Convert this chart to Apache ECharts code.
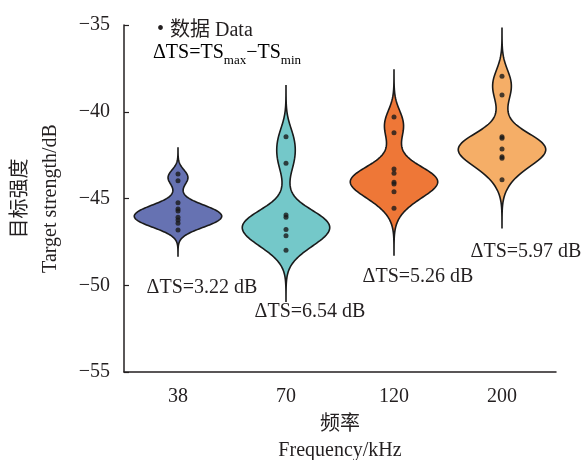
<!DOCTYPE html>
<html><head><meta charset="utf-8">
<script src="https://cdn.jsdelivr.net/npm/echarts@6/dist/echarts.min.js"></script>
<style>html,body{margin:0;padding:0;background:#fff}#c{width:584px;height:460px}</style>
</head><body><div id="c"></div>
<script>
const categories = ['38', '70', '120', '200'];
const ts38  = [-43.59, -43.97, -45.24, -45.60, -45.72, -46.08, -46.24, -46.43, -46.81];
const ts70  = [-41.44, -42.97, -45.95, -46.08, -46.78, -47.14, -47.98];
const ts120 = [-40.30, -41.21, -43.30, -43.55, -44.07, -44.16, -44.61, -45.56];
const ts200 = [-37.95, -39.03, -41.44, -41.53, -42.15, -42.59, -42.68, -43.92];
const deltaTS = ['3.22', '6.54', '5.26', '5.97'];
const bandwidth = [0.5, 0.98, 0.9, 0.92];
const groups = [ts38, ts70, ts120, ts200];
const colors = ['#6672b2', '#74c8c9', '#ee7737', '#f5ae67'];
const FONT = "'Liberation Serif', 'Noto Sans CJK SC', serif";
const TXT = '#231f20';

function kde(vals, h, v) {
  let s = 0;
  for (const x of vals) { const z = (v - x) / h; s += Math.exp(-0.5 * z * z); }
  return s;
}

const points = [];
groups.forEach((g, i) => g.forEach(v => points.push([i, v])));

const chart = echarts.init(document.getElementById('c'), null, {renderer: 'canvas'});
const option = {
  animation: false,
  backgroundColor: '#fff',
  grid: {left: 124, right: 28, top: 25, bottom: 88, outerBoundsMode: 'none', containLabel: false},
  xAxis: {
    type: 'category', data: categories, boundaryGap: true,
    axisLine: {lineStyle: {color: TXT, width: 1.5}},
    axisTick: {alignWithLabel: true, inside: true, length: 5, lineStyle: {color: TXT, width: 1.2}},
    axisLabel: {fontFamily: FONT, fontSize: 20, color: TXT, margin: 15},
    name: '频率\nFrequency/kHz', nameLocation: 'middle', nameGap: 37,
    nameTextStyle: {fontFamily: FONT, fontSize: 20, color: TXT, lineHeight: 26, verticalAlign: 'top'}
  },
  yAxis: {
    type: 'value', min: -55, max: -35, interval: 5,
    splitLine: {show: false},
    axisLine: {show: true, lineStyle: {color: TXT, width: 1.5}},
    axisTick: {show: true, inside: true, length: 5, lineStyle: {color: TXT, width: 1.2}},
    axisLabel: {fontFamily: FONT, fontSize: 20, color: TXT, margin: 14,
      formatter: v => String(v).replace('-', '\u2212')},
    name: '目标强度\nTarget strength/dB', nameLocation: 'middle', nameGap: 58, nameRotate: 90,
    nameTextStyle: {fontFamily: FONT, fontSize: 20, color: TXT, lineHeight: 30}
  },
  series: [
    {
      type: 'custom',
      data: categories.map((c, i) => [i, Math.min(...groups[i]), Math.max(...groups[i])]),
      encode: {x: 0, y: [1, 2]},
      renderItem(params, api) {
        const i = api.value(0);
        const vals = groups[i];
        const h = bandwidth[i];
        const cut = 3.0;
        const lo = Math.min(...vals) - cut * h, hi = Math.max(...vals) + cut * h;
        const N = 160;
        const dens = [];
        let dmax = 0;
        for (let k = 0; k <= N; k++) {
          const v = lo + (hi - lo) * k / N;
          const d = kde(vals, h, v);
          dens.push([v, d]);
          if (d > dmax) dmax = d;
        }
        const band = api.size([1, 0])[0];
        const halfMax = band * 0.405;
        const right = [], left = [];
        dens.forEach(([v, d]) => {
          const p = api.coord([i, v]);
          const w = Math.pow(d / dmax, 1.6) * halfMax;
          right.push([p[0] + w, p[1]]);
          left.unshift([p[0] - w, p[1]]);
        });
        return {
          type: 'polygon',
          shape: {points: right.concat(left)},
          style: {fill: colors[i], stroke: '#1a1a1a', lineWidth: 1.6}
        };
      },
      z: 2
    },
    {
      type: 'scatter', data: points, symbol: 'circle', symbolSize: 5,
      itemStyle: {color: '#1a1a1a'}, z: 3
    }
  ],
  graphic: [
    {type: 'text', left: 157, top: 20, style: {text: '•', font: `20px ${FONT}`, fill: TXT}},
    {type: 'text', left: 170, top: 21, style: {text: '数据 Data', font: `20px ${FONT}`, fill: TXT}},
    {type: 'text', left: 153, top: 43, style: {
      text: '{a|ΔTS=TS}{s|max}{a|\u2212TS}{s|min}',
      rich: {
        a: {fontFamily: FONT, fontSize: 20, color: TXT, lineHeight: 24, verticalAlign: 'bottom'},
        s: {fontFamily: FONT, fontSize: 13, color: TXT, lineHeight: 13, verticalAlign: 'bottom', padding: [0, 0, -4, 0]}
      }}},
    {type: 'text', x: 202, y: 288, style: {text: 'ΔTS=' + deltaTS[0] + ' dB', font: `20px ${FONT}`, fill: TXT, align: 'center', verticalAlign: 'middle'}},
    {type: 'text', x: 310, y: 312, style: {text: 'ΔTS=' + deltaTS[1] + ' dB', font: `20px ${FONT}`, fill: TXT, align: 'center', verticalAlign: 'middle'}},
    {type: 'text', x: 418, y: 277, style: {text: 'ΔTS=' + deltaTS[2] + ' dB', font: `20px ${FONT}`, fill: TXT, align: 'center', verticalAlign: 'middle'}},
    {type: 'text', x: 526, y: 252, style: {text: 'ΔTS=' + deltaTS[3] + ' dB', font: `20px ${FONT}`, fill: TXT, align: 'center', verticalAlign: 'middle'}}
  ]
};
chart.setOption(option);
</script></body></html>
